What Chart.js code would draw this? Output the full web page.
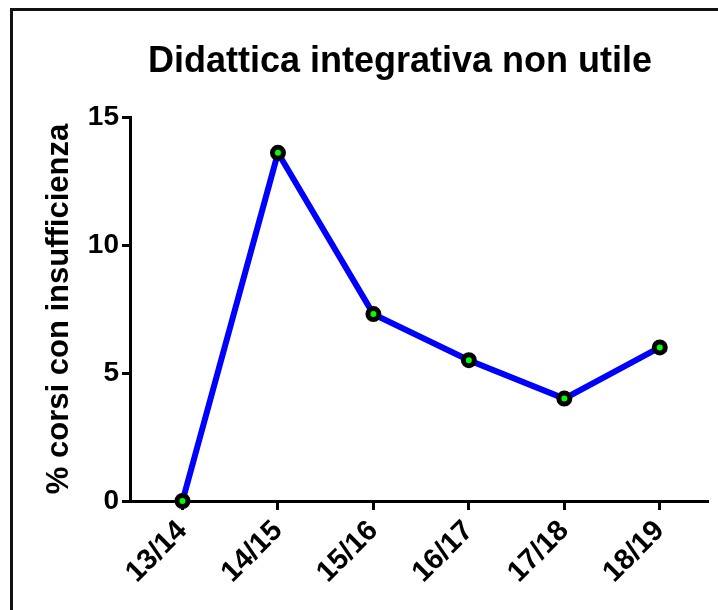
<!DOCTYPE html>
<html>
<head>
<meta charset="utf-8">
<script src="https://cdn.jsdelivr.net/npm/chart.js@4/dist/chart.umd.min.js"></script>
<style>
  html, body { margin: 0; padding: 0; background: #fff; overflow: hidden; }
  #wrap { position: relative; width: 718px; height: 610px; }
  #frame { position: absolute; left: 10px; top: 8px; width: 800px; height: 700px; border: 3px solid #111; }
  canvas { position: absolute; left: 0; top: 0; }
</style>
</head>
<body>
<div id="wrap">
  <div id="frame"></div>
  <canvas id="chart" width="718" height="610"></canvas>
</div>
<script>
const chartTitle = 'Didattica integrativa non utile';
const yTitle = '% corsi con insufficienza';
const years = ['13/14', '14/15', '15/16', '16/17', '17/18', '18/19'];
const percent = [0, 13.6, 7.3, 5.5, 4.0, 6.0];
const yTicks = [0, 5, 10, 15];

const font = 'Liberation Sans, Arial, sans-serif';

// titolo disegnato a mano per centrarlo come nell'originale
const titlePlugin = {
  id: 'titleText',
  afterDraw(chart) {
    const c = chart.ctx;
    c.save();
    c.font = 'bold 36px ' + font;
    c.fillStyle = '#000';
    c.textAlign = 'center';
    c.textBaseline = 'middle';
    c.fillText(chartTitle, 400, 62);
    c.restore();
  }
};

const ctx = document.getElementById('chart').getContext('2d');

new Chart(ctx, {
  type: 'line',
  data: {
    datasets: [{
      data: percent.map((v, i) => ({ x: i, y: v })),
      borderColor: '#0000ff',
      borderWidth: 6,
      pointBackgroundColor: '#00ff00',
      pointBorderColor: '#000',
      pointBorderWidth: 5,
      pointRadius: 5.5,
      tension: 0,
      clip: false
    }]
  },
  options: {
    responsive: false,
    animation: false,
    layout: { padding: { top: 117, right: 8, left: 0, bottom: 0 } },
    plugins: {
      legend: { display: false },
      tooltip: { enabled: false }
    },
    scales: {
      x: {
        type: 'linear',
        min: -0.55,
        max: 5.5,
        afterFit(scale) { scale.height = 109; },
        afterBuildTicks(scale) { scale.ticks = years.map((_, i) => ({ value: i })); },
        border: { display: true, color: '#000', width: 3 },
        grid: { drawOnChartArea: false, color: '#000', lineWidth: 3, tickLength: 9 },
        ticks: {
          color: '#000',
          font: { family: font, size: 29, weight: 'bold' },
          minRotation: 45,
          maxRotation: 45,
          padding: 4,
          callback: (v) => years[v]
        }
      },
      y: {
        min: 0,
        max: 15,
        afterFit(scale) { scale.width = 130; },
        afterBuildTicks(scale) { scale.ticks = yTicks.map(v => ({ value: v })); },
        border: { display: true, color: '#000', width: 3 },
        grid: { drawOnChartArea: false, color: '#000', lineWidth: 3, tickLength: 8 },
        ticks: {
          color: '#000',
          font: { family: font, size: 28, weight: 'bold' },
          padding: 3
        },
        title: {
          display: true,
          text: yTitle,
          color: '#000',
          font: { family: font, size: 31, weight: 'bold' },
          padding: { top: 41, bottom: 0 }
        }
      }
    }
  },
  plugins: [titlePlugin]
});
</script>
</body>
</html>
